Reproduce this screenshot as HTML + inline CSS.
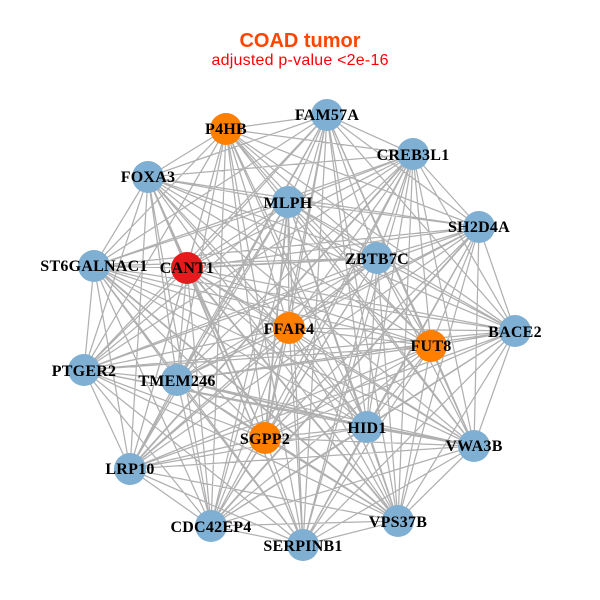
<!DOCTYPE html>
<html>
<head>
<meta charset="utf-8">
<title>COAD tumor</title>
<style>
html,body{margin:0;padding:0;background:#fff;width:600px;height:600px;overflow:hidden}
svg{display:block}
.l{font-family:"Liberation Serif",serif;font-weight:bold;font-size:16px;letter-spacing:.25px;fill:#000;text-anchor:middle}
.t{font-family:"Liberation Sans",sans-serif;text-anchor:middle}
</style>
</head>
<body>
<svg width="600" height="600" viewBox="0 0 600 600" xmlns="http://www.w3.org/2000/svg">
<rect width="600" height="600" fill="#fff"/>
<path fill="none" stroke="#b0b0b0" stroke-width="1.25" stroke-linejoin="round" d="
M327 115L226 129L327 115L413 154L327 115L148 177L327 115L288 202L327 115L479 227L327 115L377 258L327 115L94 266L327 115L187 268L327 115L289 328L327 115L515 331L327 115L431 346L327 115L84 370L327 115L177 380L327 115L367 427L327 115L265 438L327 115L474 446L327 115L130 469L327 115L211 526L327 115L398 521L327 115L303 545
M226 129L413 154L226 129L148 177L226 129L288 202L226 129L479 227L226 129L377 258L226 129L94 266L226 129L187 268L226 129L289 328L226 129L515 331L226 129L431 346L226 129L84 370L226 129L177 380L226 129L367 427L226 129L265 438L226 129L474 446L226 129L130 469L226 129L211 526L226 129L398 521L226 129L303 545
M413 154L148 177L413 154L288 202L413 154L479 227L413 154L377 258L413 154L94 266L413 154L187 268L413 154L289 328L413 154L515 331L413 154L431 346L413 154L84 370L413 154L177 380L413 154L367 427L413 154L265 438L413 154L474 446L413 154L130 469L413 154L211 526L413 154L398 521L413 154L303 545
M148 177L288 202L148 177L479 227L148 177L377 258L148 177L94 266L148 177L187 268L148 177L289 328L148 177L515 331L148 177L431 346L148 177L84 370L148 177L177 380L148 177L367 427L148 177L265 438L148 177L474 446L148 177L130 469L148 177L211 526L148 177L398 521L148 177L303 545
M288 202L479 227L288 202L377 258L288 202L94 266L288 202L187 268L288 202L289 328L288 202L515 331L288 202L431 346L288 202L84 370L288 202L177 380L288 202L367 427L288 202L265 438L288 202L474 446L288 202L130 469L288 202L211 526L288 202L398 521L288 202L303 545
M479 227L377 258L479 227L94 266L479 227L187 268L479 227L289 328L479 227L515 331L479 227L431 346L479 227L84 370L479 227L177 380L479 227L367 427L479 227L265 438L479 227L474 446L479 227L130 469L479 227L211 526L479 227L398 521L479 227L303 545
M377 258L94 266L377 258L187 268L377 258L289 328L377 258L515 331L377 258L431 346L377 258L84 370L377 258L177 380L377 258L367 427L377 258L265 438L377 258L474 446L377 258L130 469L377 258L211 526L377 258L398 521L377 258L303 545
M94 266L187 268L94 266L289 328L94 266L515 331L94 266L431 346L94 266L84 370L94 266L177 380L94 266L367 427L94 266L265 438L94 266L474 446L94 266L130 469L94 266L211 526L94 266L398 521L94 266L303 545
M187 268L289 328L187 268L515 331L187 268L431 346L187 268L84 370L187 268L177 380L187 268L367 427L187 268L265 438L187 268L474 446L187 268L130 469L187 268L211 526L187 268L398 521L187 268L303 545
M289 328L515 331L289 328L431 346L289 328L84 370L289 328L177 380L289 328L367 427L289 328L265 438L289 328L474 446L289 328L130 469L289 328L211 526L289 328L398 521L289 328L303 545
M515 331L431 346L515 331L84 370L515 331L177 380L515 331L367 427L515 331L265 438L515 331L474 446L515 331L130 469L515 331L211 526L515 331L398 521L515 331L303 545
M431 346L84 370L431 346L177 380L431 346L367 427L431 346L265 438L431 346L474 446L431 346L130 469L431 346L211 526L431 346L398 521L431 346L303 545
M84 370L177 380L84 370L367 427L84 370L265 438L84 370L474 446L84 370L130 469L84 370L211 526L84 370L398 521L84 370L303 545
M177 380L367 427L177 380L265 438L177 380L474 446L177 380L130 469L177 380L211 526L177 380L398 521L177 380L303 545
M367 427L265 438L367 427L474 446L367 427L130 469L367 427L211 526L367 427L398 521L367 427L303 545
M265 438L474 446L265 438L130 469L265 438L211 526L265 438L398 521L265 438L303 545
M474 446L130 469L474 446L211 526L474 446L398 521L474 446L303 545
M130 469L211 526L130 469L398 521L130 469L303 545
M211 526L398 521L211 526L303 545
M398 521L303 545"/>
<path fill="none" stroke="#b0b0b0" stroke-width="1.8" d="M187 268L377 258M367 427L474 446M177 380L367 427M148 177L187 268M187 268L398 521M94 266L398 521M288 202L265 438M130 469L413 154M211 526L479 227"/>
<g fill="#7fafd3">
<circle cx="327" cy="115" r="16"/>
<circle cx="413" cy="154" r="16"/>
<circle cx="148" cy="177" r="16"/>
<circle cx="288" cy="202" r="16"/>
<circle cx="479" cy="227" r="16"/>
<circle cx="377" cy="258" r="16"/>
<circle cx="94" cy="266" r="16"/>
<circle cx="515" cy="331" r="16"/>
<circle cx="84" cy="370" r="16"/>
<circle cx="177" cy="380" r="16"/>
<circle cx="367" cy="427" r="16"/>
<circle cx="474" cy="446" r="16"/>
<circle cx="130" cy="469" r="16"/>
<circle cx="211" cy="526" r="16"/>
<circle cx="398" cy="521" r="16"/>
<circle cx="303" cy="545" r="16"/>
</g>
<g fill="#ff7f00">
<circle cx="226" cy="129" r="16"/>
<circle cx="289" cy="328" r="16"/>
<circle cx="431" cy="346" r="16"/>
<circle cx="265" cy="438" r="16"/>
</g>
<circle cx="187" cy="268" r="16" fill="#e41a1c"/>
<text class="l" x="327" y="120">FAM57A</text>
<text class="l" x="226" y="134">P4HB</text>
<text class="l" x="413" y="160">CREB3L1</text>
<text class="l" x="148" y="182">FOXA3</text>
<text class="l" x="288" y="208">MLPH</text>
<text class="l" x="479" y="232">SH2D4A</text>
<text class="l" x="377" y="264">ZBTB7C</text>
<text class="l" x="94" y="271">ST6GALNAC1</text>
<text class="l" x="187" y="273">CANT1</text>
<text class="l" x="289" y="334">FFAR4</text>
<text class="l" x="515" y="337">BACE2</text>
<text class="l" x="431" y="351">FUT8</text>
<text class="l" x="84" y="376">PTGER2</text>
<text class="l" x="177" y="386">TMEM246</text>
<text class="l" x="367" y="433">HID1</text>
<text class="l" x="265" y="444">SGPP2</text>
<text class="l" x="474" y="451">VWA3B</text>
<text class="l" x="130" y="474">LRP10</text>
<text class="l" x="211" y="532">CDC42EP4</text>
<text class="l" x="398" y="527">VPS37B</text>
<text class="l" x="303" y="551">SERPINB1</text>
<text class="t" x="300" y="47" font-size="20" font-weight="bold" fill="#ff4500">COAD tumor</text>
<text class="t" x="300" y="65" font-size="16" fill="#ff0000" textLength="177">adjusted p-value &lt;2e-16</text>
</svg>
</body>
</html>
